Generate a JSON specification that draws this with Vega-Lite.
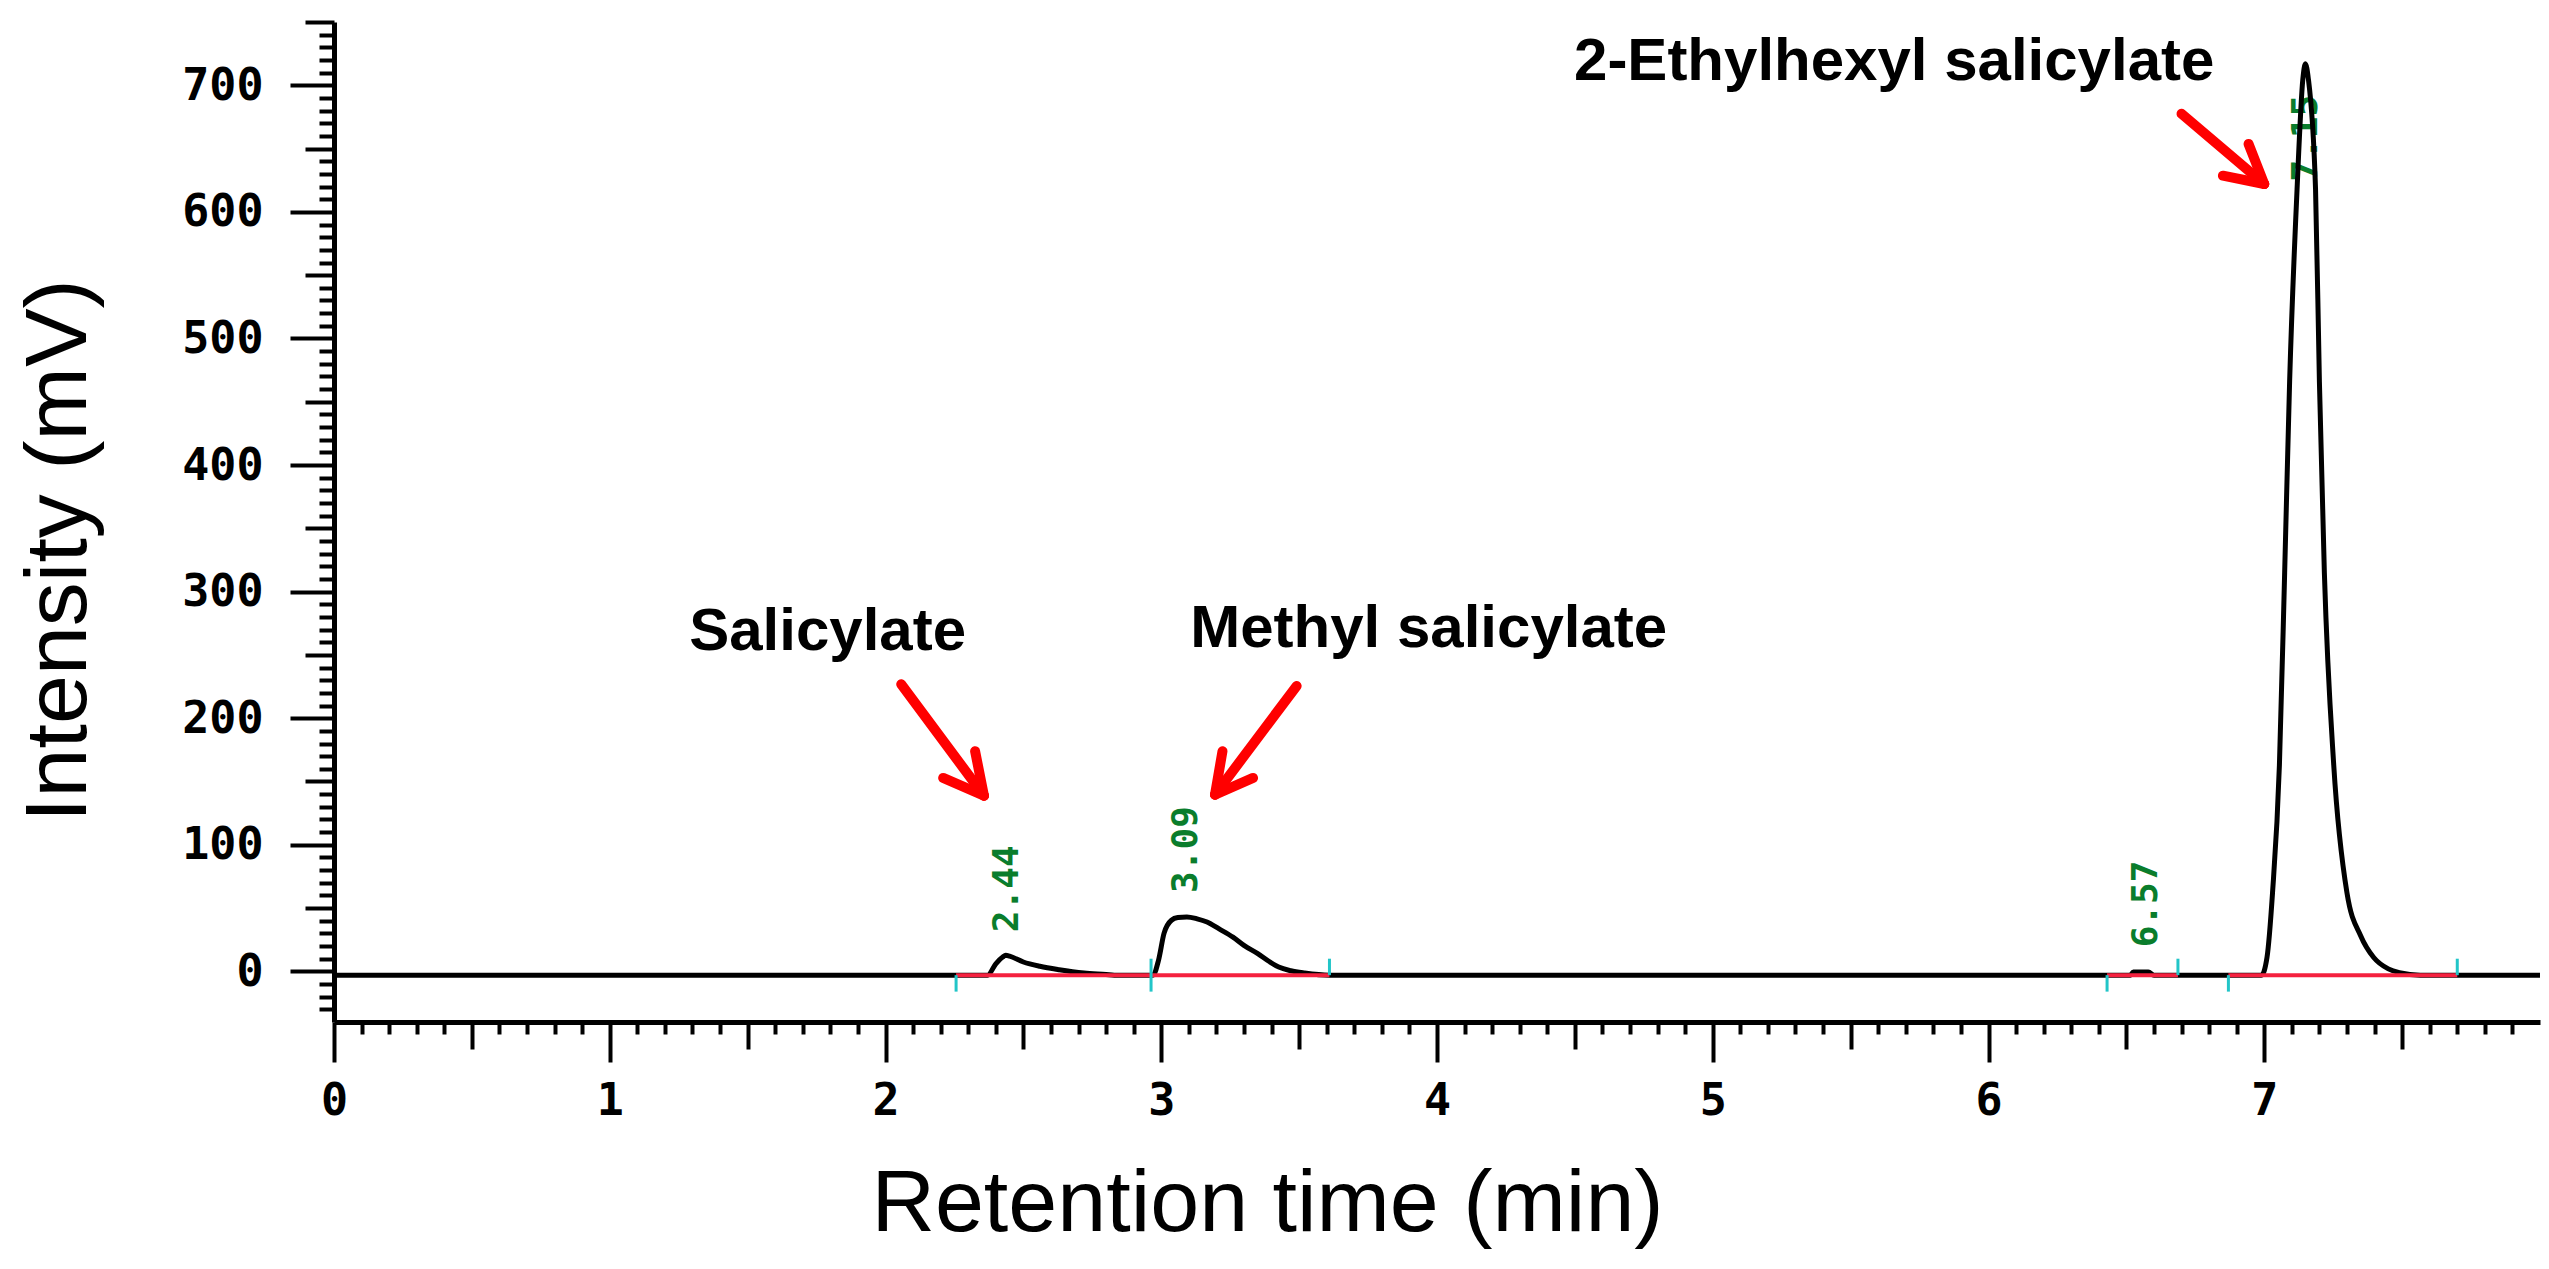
{
  "$schema": "https://vega.github.io/schema/vega-lite/v6.json",
  "width": 2206,
  "height": 1000,
  "autosize": {"type": "none"},
  "padding": {"left": 334, "top": 22, "right": 9, "bottom": 247},
  "background": "white",
  "config": {
    "view": {"stroke": null},
    "axis": {"grid": false, "domainColor": "black", "tickColor": "black", "labelColor": "black", "titleColor": "black"}
  },
  "datasets": {
    "trace": [
      {"t": 0, "mV": -3}, {"t": 2.37, "mV": -3}, {"t": 2.4, "mV": 6}, {"t": 2.425, "mV": 11.3}, {"t": 2.436, "mV": 12.7},
      {"t": 2.45, "mV": 12}, {"t": 2.5, "mV": 7.4}, {"t": 2.56, "mV": 4}, {"t": 2.63, "mV": 1.3}, {"t": 2.72, "mV": -1.3},
      {"t": 2.8, "mV": -2.5}, {"t": 2.83, "mV": -3}, {"t": 2.97, "mV": -3}, {"t": 2.99, "mV": 8.7}, {"t": 3.01, "mV": 30},
      {"t": 3.037, "mV": 40.4}, {"t": 3.06, "mV": 42.5}, {"t": 3.093, "mV": 43}, {"t": 3.13, "mV": 41.5}, {"t": 3.166, "mV": 39},
      {"t": 3.21, "mV": 33.5}, {"t": 3.26, "mV": 27}, {"t": 3.3, "mV": 20.5}, {"t": 3.35, "mV": 14}, {"t": 3.39, "mV": 8},
      {"t": 3.426, "mV": 3.4}, {"t": 3.47, "mV": 0.5}, {"t": 3.52, "mV": -1.3}, {"t": 3.61, "mV": -3}, {"t": 6.515, "mV": -3},
      {"t": 6.525, "mV": -0.5}, {"t": 6.58, "mV": -0.5}, {"t": 6.6, "mV": -3}, {"t": 6.99, "mV": -3}, {"t": 7.01, "mV": 11},
      {"t": 7.03, "mV": 62}, {"t": 7.055, "mV": 163}, {"t": 7.074, "mV": 315}, {"t": 7.092, "mV": 466}, {"t": 7.119, "mV": 618},
      {"t": 7.14, "mV": 705}, {"t": 7.149, "mV": 717}, {"t": 7.16, "mV": 705}, {"t": 7.186, "mV": 618}, {"t": 7.2, "mV": 466},
      {"t": 7.218, "mV": 315}, {"t": 7.252, "mV": 163}, {"t": 7.3, "mV": 62}, {"t": 7.35, "mV": 28}, {"t": 7.397, "mV": 11},
      {"t": 7.45, "mV": 2}, {"t": 7.49, "mV": -1}, {"t": 7.566, "mV": -3}, {"t": 8.0, "mV": -3}
    ],
    "baselines": [
      {"t0": 2.256, "t1": 3.61, "mV": -3},
      {"t0": 6.43, "t1": 6.687, "mV": -3},
      {"t0": 6.87, "t1": 7.7, "mV": -3}
    ],
    "events": [
      {"t": 2.256, "lo": -16, "hi": -3},
      {"t": 2.963, "lo": -16, "hi": 10},
      {"t": 3.61, "lo": -3, "hi": 10},
      {"t": 6.43, "lo": -16, "hi": -3},
      {"t": 6.687, "lo": -3, "hi": 10},
      {"t": 6.87, "lo": -16, "hi": -3},
      {"t": 7.7, "lo": -3, "hi": 10}
    ],
    "peaks": [
      {"t": 2.44, "pos": 31, "label": "2.44"},
      {"t": 3.09, "pos": 62, "label": "3.09"},
      {"t": 6.57, "pos": 19, "label": "6.57"},
      {"t": 7.15, "pos": 624, "label": "7.15"}
    ],
    "arrows": [
      {"t0": 2.057, "v0": 226.8, "t1": 2.357, "v1": 138.8},
      {"t0": 2.357, "v0": 138.8, "t1": 2.325, "v1": 173.9},
      {"t0": 2.357, "v0": 138.8, "t1": 2.209, "v1": 152.8},
      {"t0": 3.491, "v0": 225.5, "t1": 3.195, "v1": 139.6},
      {"t0": 3.195, "v0": 139.6, "t1": 3.222, "v1": 173.9},
      {"t0": 3.195, "v0": 139.6, "t1": 3.333, "v1": 152.8},
      {"t0": 6.7, "v0": 677.5, "t1": 7.0, "v1": 622},
      {"t0": 7.0, "v0": 622, "t1": 6.943, "v1": 653.7},
      {"t0": 7.0, "v0": 622, "t1": 6.85, "v1": 628.6}
    ],
    "notes": [
      {"t": 1.79, "v": 254, "text": "Salicylate"},
      {"t": 3.97, "v": 256, "text": "Methyl salicylate"},
      {"t": 5.658, "v": 704, "text": "2-Ethylhexyl salicylate"}
    ]
  },
  "resolve": {"axis": {"x": "independent", "y": "independent"}},
  "layer": [
    {
      "data": {"name": "peaks"},
      "mark": {"type": "text", "angle": 270, "align": "left", "baseline": "middle", "font": "DejaVu Sans Mono", "fontWeight": "bold", "fontSize": 36, "color": "#0a7d2c"},
      "encoding": {
        "x": {"field": "t", "type": "quantitative", "scale": {"domain": [0, 8], "nice": false, "zero": false}, "axis": null},
        "y": {"field": "pos", "type": "quantitative", "scale": {"domain": [-40, 750], "nice": false, "zero": false}, "axis": null},
        "text": {"field": "label"}
      }
    },
    {
      "data": {"name": "trace"},
      "mark": {"type": "line", "color": "black", "strokeWidth": 5, "interpolate": "monotone", "clip": true},
      "encoding": {
        "x": {"field": "t", "type": "quantitative", "scale": {"domain": [0, 8], "nice": false, "zero": false},
          "axis": {"orient": "bottom", "values": [0, 1, 2, 3, 4, 5, 6, 7], "tickSize": 40, "tickWidth": 4, "domain": false,
            "labelFont": "DejaVu Sans Mono", "labelFontWeight": "bold", "labelFontSize": 45, "labelPadding": 16,
            "labelFlush": false, "labelOverlap": false, "title": "Retention time (min)", "titleFont": "Liberation Sans",
            "titleFontSize": 88, "titleFontWeight": "normal", "titleX": 933, "titleY": 182, "titleBaseline": "middle", "titleAlign": "center"}},
        "y": {"field": "mV", "type": "quantitative", "scale": {"domain": [-40, 750], "nice": false, "zero": false},
          "axis": {"orient": "left", "values": [0, 100, 200, 300, 400, 500, 600, 700], "tickSize": 44, "tickWidth": 4, "domain": false,
            "labelFont": "DejaVu Sans Mono", "labelFontWeight": "bold", "labelFontSize": 45, "labelPadding": 27,
            "labelOverlap": false, "labelFlush": false, "title": "Intensity (mV)", "titleFont": "Liberation Sans", "titleFontSize": 88,
            "titleFontWeight": "normal", "titleX": -275, "titleY": 528, "titleBaseline": "middle", "titleAlign": "center", "titleAngle": 270}}
      }
    },
    {
      "data": {"name": "baselines"},
      "mark": {"type": "rule", "color": "#f5213f", "strokeWidth": 4},
      "encoding": {
        "x": {"field": "t0", "type": "quantitative", "scale": {"domain": [0, 8], "nice": false, "zero": false},
          "axis": {"orient": "bottom", "values": [0.5, 1.5, 2.5, 3.5, 4.5, 5.5, 6.5, 7.5], "tickSize": 27, "tickWidth": 4, "domain": false, "labels": false, "title": null}},
        "x2": {"field": "t1"},
        "y": {"field": "mV", "type": "quantitative", "scale": {"domain": [-40, 750], "nice": false, "zero": false},
          "axis": {"orient": "left", "values": [50, 150, 250, 350, 450, 550, 650, 750], "tickSize": 29, "tickWidth": 4, "domain": false, "labels": false, "title": null}}
      }
    },
    {
      "data": {"name": "events"},
      "mark": {"type": "rule", "color": "#22c5c8", "strokeWidth": 3},
      "encoding": {
        "x": {"field": "t", "type": "quantitative", "scale": {"domain": [0, 8], "nice": false, "zero": false},
          "axis": {"orient": "bottom", "values": [0.1, 0.2, 0.3, 0.4, 0.6, 0.7, 0.8, 0.9, 1.1, 1.2, 1.3, 1.4, 1.6, 1.7, 1.8, 1.9, 2.1, 2.2, 2.3, 2.4, 2.6, 2.7, 2.8, 2.9, 3.1, 3.2, 3.3, 3.4, 3.6, 3.7, 3.8, 3.9, 4.1, 4.2, 4.3, 4.4, 4.6, 4.7, 4.8, 4.9, 5.1, 5.2, 5.3, 5.4, 5.6, 5.7, 5.8, 5.9, 6.1, 6.2, 6.3, 6.4, 6.6, 6.7, 6.8, 6.9, 7.1, 7.2, 7.3, 7.4, 7.6, 7.7, 7.8, 7.9],
            "tickSize": 12, "tickWidth": 4, "domain": true, "domainWidth": 5, "labels": false, "title": null}},
        "y": {"field": "lo", "type": "quantitative", "scale": {"domain": [-40, 750], "nice": false, "zero": false},
          "axis": {"orient": "left", "values": [-30, -20, -10, 10, 20, 30, 40, 60, 70, 80, 90, 110, 120, 130, 140, 160, 170, 180, 190, 210, 220, 230, 240, 260, 270, 280, 290, 310, 320, 330, 340, 360, 370, 380, 390, 410, 420, 430, 440, 460, 470, 480, 490, 510, 520, 530, 540, 560, 570, 580, 590, 610, 620, 630, 640, 660, 670, 680, 690, 710, 720, 730, 740],
            "tickSize": 15, "tickWidth": 4, "domain": true, "domainWidth": 5, "labels": false, "title": null}},
        "y2": {"field": "hi"}
      }
    },
    {
      "data": {"name": "arrows"},
      "mark": {"type": "rule", "color": "#ff0000", "strokeWidth": 10, "strokeCap": "round"},
      "encoding": {
        "x": {"field": "t0", "type": "quantitative", "scale": {"domain": [0, 8], "nice": false, "zero": false}, "axis": null},
        "x2": {"field": "t1"},
        "y": {"field": "v0", "type": "quantitative", "scale": {"domain": [-40, 750], "nice": false, "zero": false}, "axis": null},
        "y2": {"field": "v1"}
      }
    },
    {
      "data": {"name": "notes"},
      "mark": {"type": "text", "align": "center", "baseline": "alphabetic", "font": "Liberation Sans", "fontWeight": "bold", "fontSize": 60, "color": "black"},
      "encoding": {
        "x": {"field": "t", "type": "quantitative", "scale": {"domain": [0, 8], "nice": false, "zero": false}, "axis": null},
        "y": {"field": "v", "type": "quantitative", "scale": {"domain": [-40, 750], "nice": false, "zero": false}, "axis": null},
        "text": {"field": "text"}
      }
    }
  ]
}
